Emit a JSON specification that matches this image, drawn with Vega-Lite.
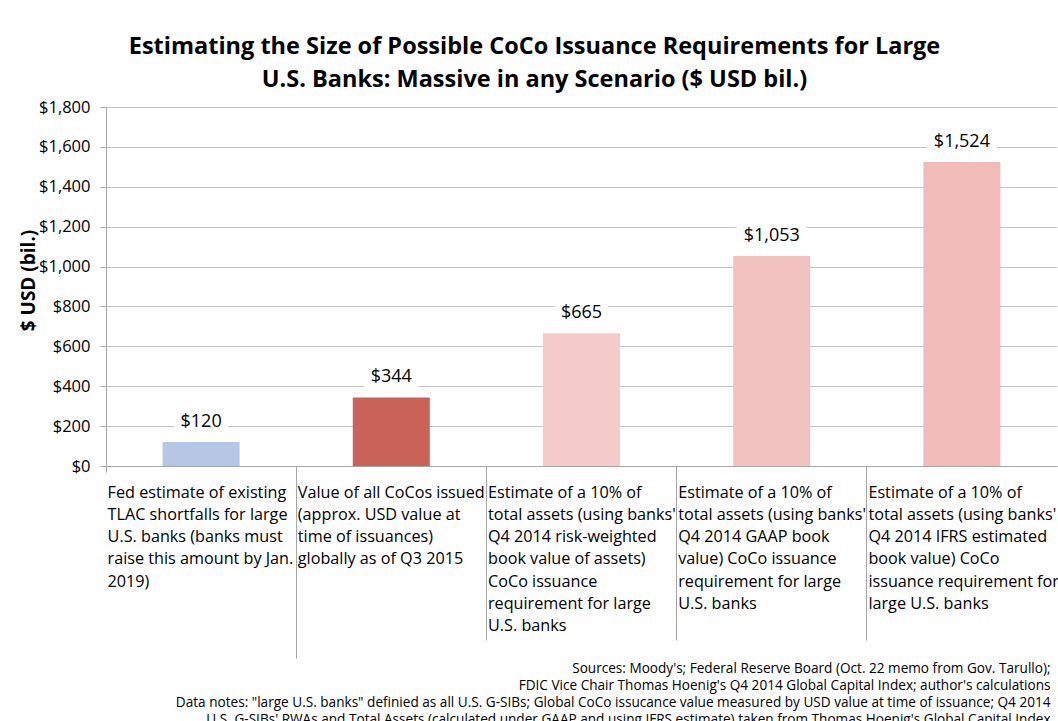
{
  "$schema": "https://vega.github.io/schema/vega-lite/v6.json",
  "width": 951,
  "height": 359,
  "autosize": {"type": "none"},
  "padding": {"left": 106, "top": 107, "right": 1, "bottom": 255},
  "background": "white",
  "config": {"view": {"stroke": null}, "font": "Open Sans"},
  "title": {
    "text": ["Estimating the Size of Possible CoCo Issuance Requirements for Large", "U.S. Banks: Massive in any Scenario ($ USD bil.)"],
    "fontSize": 23.5,
    "fontWeight": "bold",
    "font": "Open Sans",
    "color": "#000000",
    "lineHeight": 33,
    "anchor": "middle",
    "dx": -47,
    "offset": 8
  },
  "data": {
    "values": [
      {"cat": "Fed estimate of existing|TLAC shortfalls for large|U.S. banks (banks must|raise this amount by Jan.|2019)", "value": 120},
      {"cat": "Value of all CoCos issued|(approx. USD value at|time of issuances)|globally as of Q3 2015", "value": 344},
      {"cat": "Estimate of a 10% of|total assets (using banks'|Q4 2014 risk-weighted|book value of assets)|CoCo issuance|requirement for large|U.S. banks", "value": 665},
      {"cat": "Estimate of a 10% of|total assets (using banks'|Q4 2014 GAAP book|value) CoCo issuance|requirement for large|U.S. banks", "value": 1053},
      {"cat": "Estimate of a 10% of|total assets (using banks'|Q4 2014 IFRS estimated|book value) CoCo|issuance requirement for|large U.S. banks", "value": 1524}
    ]
  },
  "encoding": {
    "x": {
      "field": "cat",
      "type": "nominal",
      "sort": null,
      "scale": {"paddingInner": 0, "paddingOuter": 0},
      "axis": {
        "title": ["Sources: Moody's; Federal Reserve Board (Oct. 22 memo from Gov. Tarullo);", "FDIC Vice Chair Thomas Hoenig's Q4 2014 Global Capital Index; author's calculations", "Data notes: \"large U.S. banks\" definied as all U.S. G-SIBs; Global CoCo issucance value measured by USD value at time of issuance; Q4 2014", "U.S. G-SIBs' RWAs and Total Assets (calculated under GAAP and using IFRS estimate) taken from Thomas Hoenig's Global Capital Index"],
        "titleFont": "Open Sans",
        "titleFontSize": 13.6,
        "titleFontWeight": "normal",
        "titleColor": "#000000",
        "titleAlign": "right",
        "titleAnchor": "end",
        "titleX": 944,
        "titleY": 195,
        "titleBaseline": "top",
        "titleLineHeight": 17,
        "bandPosition": 0,
        "labelExpr": "split(datum.label, '|')",
        "labelAlign": "left",
        "labelBaseline": "top",
        "labelFont": "Open Sans",
        "labelFontSize": 16.2,
        "labelLineHeight": 22.3,
        "labelPadding": {"condition": [{"test": "indexof(datum.value, 'Fed') === 0", "value": 12}, {"test": "indexof(datum.value, 'Value') === 0", "value": -174}], "value": -156},
        "labelOffset": -93.5,
        "labelColor": "#000000",
        "labelLimit": 0,
        "labelOverlap": false,
        "labelBound": false,
        "labelFlush": false,
        "labelAngle": 0,
        "tickSize": {"condition": [{"test": "indexof(datum.value, 'Fed') === 0", "value": 6}, {"test": "indexof(datum.value, 'Value') === 0", "value": 192}], "value": 174},
        "tickColor": "#a6a6a6",
        "domainColor": "#a6a6a6",
        "grid": false
      }
    },
    "y": {
      "field": "value",
      "type": "quantitative",
      "scale": {"domain": [0, 1800], "nice": false},
      "axis": {
        "title": "$ USD (bil.)",
        "titleFont": "Open Sans",
        "titleFontSize": 19,
        "titleFontWeight": "bold",
        "titleColor": "#000000",
        "titleX": -78,
        "titleY": 173,
        "titleAngle": -90,
        "titleAlign": "center",
        "titleBaseline": "middle",
        "values": [0, 200, 400, 600, 800, 1000, 1200, 1400, 1600, 1800],
        "format": "$,.0f",
        "labelFont": "Open Sans",
        "labelFontSize": 16.5,
        "labelColor": "#000000",
        "labelPadding": 10,
        "tickSize": 6,
        "tickColor": "#a6a6a6",
        "domainColor": "#a6a6a6",
        "gridColor": "#c4c4c4"
      }
    }
  },
  "layer": [
    {
      "mark": {"type": "bar", "width": {"band": 0.405}},
      "encoding": {
        "color": {
          "field": "cat",
          "type": "nominal",
          "sort": null,
          "scale": {"range": ["#b5c7e4", "#c9635a", "#f4cbc9", "#f2c2c0", "#f0bbb8"]},
          "legend": null
        }
      }
    },
    {
      "mark": {"type": "point", "filled": true, "color": "white", "opacity": 1, "size": 4900, "yOffset": -20, "strokeWidth": 0},
      "encoding": {
        "shape": {"condition": {"test": "datum.value >= 1000", "value": "M-1,-0.3H1V0.3H-1Z"}, "value": "M-0.77,-0.3H0.77V0.3H-0.77Z"}
      }
    },
    {
      "mark": {"type": "text", "fontSize": 18, "font": "Open Sans", "color": "#000000", "baseline": "middle", "dy": -20},
      "encoding": {
        "text": {"field": "value", "type": "quantitative", "format": "$,.0f"}
      }
    }
  ]
}
